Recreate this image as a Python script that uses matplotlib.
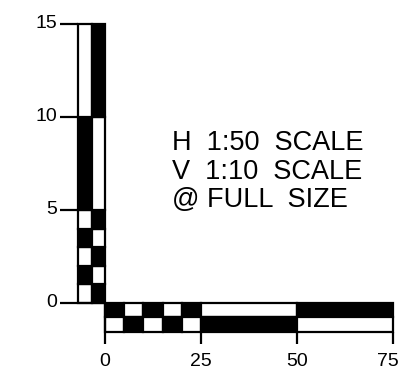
import matplotlib
matplotlib.use("Agg")
import matplotlib.pyplot as plt

# Vertical scale bar (units 0-15), two columns
v_edges = [0, 1, 2, 3, 4, 5, 10, 15]
v_left_black = [0, 1, 0, 1, 0, 1, 0]   # 1 = black segment in left column
v_ticks = [0, 5, 10, 15]

# Horizontal scale bar (units 0-75), two rows
h_edges = [0, 5, 10, 15, 20, 25, 50, 75]
h_top_black = [1, 0, 1, 0, 1, 0, 1]    # 1 = black segment in top row
h_ticks = [0, 25, 50, 75]

notes = ["H  1:50  SCALE", "V  1:10  SCALE", "@ FULL  SIZE"]

FONT = "Liberation Sans"

fig = plt.figure(figsize=(4.02, 3.87), dpi=100)
ax = fig.add_axes([0, 0, 1, 1])
ax.set_xlim(-27.34, 77.34)
ax.set_ylim(-4.52, 16.29)
ax.axis("off")

col_w = 3.5
row_h = 0.78
lw = 1.6

# vertical bar
for i in range(len(v_edges) - 1):
    b = v_edges[i]
    h = v_edges[i + 1] - v_edges[i]
    lb = v_left_black[i]
    ax.bar(-1.5 * col_w, h, bottom=b, width=col_w, align="center",
           color="black" if lb else "white", edgecolor="black", linewidth=lw)
    ax.bar(-0.5 * col_w, h, bottom=b, width=col_w, align="center",
           color="white" if lb else "black", edgecolor="black", linewidth=lw)

# horizontal bar
for i in range(len(h_edges) - 1):
    l = h_edges[i]
    w = h_edges[i + 1] - h_edges[i]
    tb = h_top_black[i]
    ax.barh(-0.5 * row_h, w, left=l, height=row_h, align="center",
            color="black" if tb else "white", edgecolor="black", linewidth=lw)
    ax.barh(-1.5 * row_h, w, left=l, height=row_h, align="center",
            color="white" if tb else "black", edgecolor="black", linewidth=lw)

# vertical ticks + labels
for t in v_ticks:
    x_end = 0 if t == 0 else -2 * col_w
    ax.plot([-11.7, x_end], [t, t], color="black", lw=lw, solid_capstyle="butt")
    ax.text(-12.4, t, str(t), ha="right", va="center", fontsize=14,
            color="black", family=FONT)

# horizontal ticks + labels
for t in h_ticks:
    y_top = 0 if t == 0 else -2 * row_h
    ax.plot([t, t], [y_top, -2.2], color="black", lw=lw, solid_capstyle="butt")
    dx = -1.3 if t == h_ticks[-1] else 0
    ax.text(t + dx, -3.17, str(t), ha="center", va="center", fontsize=14,
            color="black", family=FONT)

# notes
for k, s in enumerate(notes):
    ax.text(0.428, 1 - (143 + 28.5 * k) / 387, s, transform=ax.transAxes,
            ha="left", va="center", fontsize=19.5, color="black",
            family=FONT)

fig.savefig("out.png", dpi=100)
